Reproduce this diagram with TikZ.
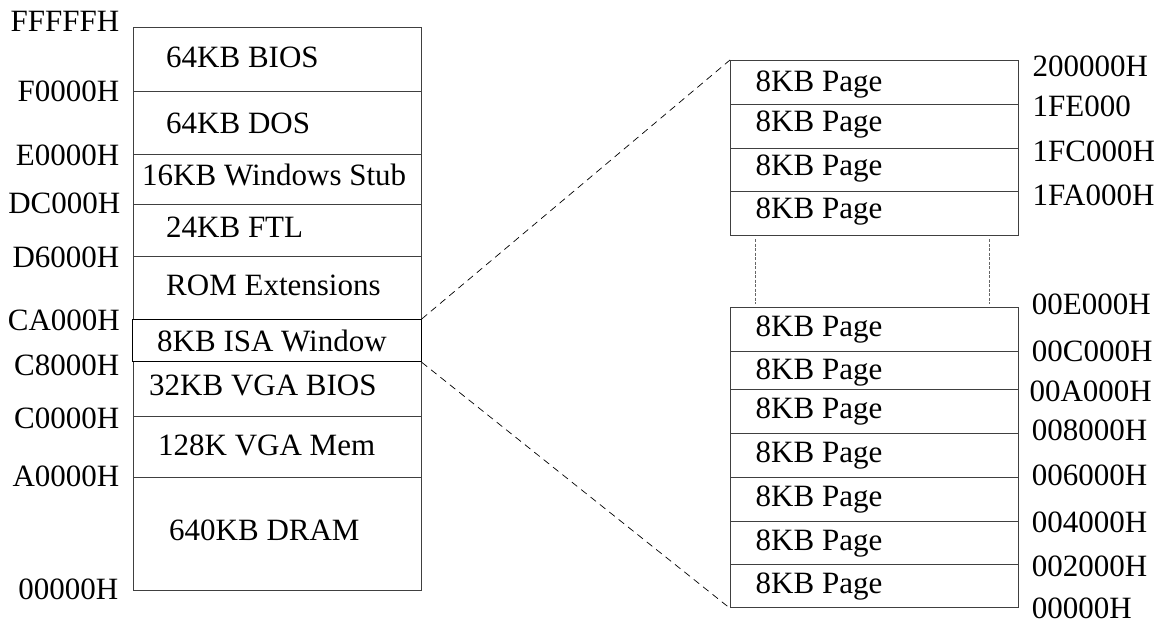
\documentclass[tikz,border=0pt]{standalone}
\usepackage{fontspec}
\setmainfont{Liberation Serif}
\begin{document}
\begin{tikzpicture}[x=1pt,y=-1pt,
  cell/.style={draw=black!75, line width=1pt, inner sep=0pt, anchor=north west},
  lcell/.style={cell, minimum width=288pt},
  rcell/.style={cell, minimum width=287.7pt},
  txt/.style={inner sep=0pt, anchor=base west, font=\fontsize{31}{36}\selectfont},
  addr/.style={inner sep=0pt, anchor=base east, font=\fontsize{31}{36}\selectfont},
  zoomline/.style={draw=black, line width=0.7pt, dash pattern=on 7pt off 5pt},
  gapline/.style={draw=black!60, line width=0.6pt, dash pattern=on 3pt off 1.5pt}]
\useasboundingbox (0,0) rectangle (1164,624);

% left memory map cells
\node[lcell, minimum height=63.7pt] (bios) at (133,27) {};
\node[lcell, minimum height=63.6pt] (dos) at (133,90.7) {};
\node[lcell, minimum height=50pt] (stub) at (133,154.3) {};
\node[lcell, minimum height=51.7pt] (ftl) at (133,204.3) {};
\node[lcell, minimum height=63pt] (rom) at (133,256) {};
\node[lcell, minimum height=54.7pt] (vgab) at (133,361.3) {};
\node[lcell, minimum height=61pt] (vgam) at (133,416) {};
\node[lcell, minimum height=113.3pt] (dram) at (133,477) {};
\node[cell, draw=black, minimum width=289pt, minimum height=42.3pt] (isa) at (131.7,319) {};

% left cell texts
\node[txt] (tbios) at (166,67.7) {64KB BIOS};
\node[txt] (tdos) at (166,133.3) {64KB DOS};
\node[txt] (tstub) at (142,185) {16KB Windows Stub};
\node[txt] (tftl) at (166,237.3) {24KB FTL};
\node[txt] (trom) at (166,295) {ROM Extensions};
\node[txt] (tisa) at (157,351.7) {8KB ISA Window};
\node[txt] (tvgab) at (149,395.7) {32KB VGA BIOS};
\node[txt] (tvgam) at (158,455.7) {128K VGA Mem};
\node[txt] (tdram) at (169,540) {640KB DRAM};

% left addresses
\node[addr] (a1) at (119.5,31.7) {FFFFFH};
\node[addr] (a2) at (119.5,101) {F0000H};
\node[addr] (a3) at (119.5,165.7) {E0000H};
\node[addr] (a4) at (120.5,213) {DC000H};
\node[addr] (a5) at (119.5,267.7) {D6000H};
\node[addr] (a6) at (120,330.7) {CA000H};
\node[addr] (a7) at (119.5,375) {C8000H};
\node[addr] (a8) at (119.5,428.3) {C0000H};
\node[addr] (a9) at (119.5,486.7) {A0000H};
\node[addr] (a10) at (118.5,599.3) {00000H};

% right upper pages
\node[rcell, minimum height=44.3pt] (u1) at (730,60) {};
\node[rcell, minimum height=43.4pt] (u2) at (730,104.3) {};
\node[rcell, minimum height=43.3pt] (u3) at (730,147.7) {};
\node[rcell, minimum height=44pt] (u4) at (730,191) {};
% right lower pages
\node[rcell, minimum height=43.7pt] (l1) at (730,307.3) {};
\node[rcell, minimum height=38.3pt] (l2) at (730,351) {};
\node[rcell, minimum height=44pt] (l3) at (730,389.3) {};
\node[rcell, minimum height=44pt] (l4) at (730,433.3) {};
\node[rcell, minimum height=43.4pt] (l5) at (730,477.3) {};
\node[rcell, minimum height=43.6pt] (l6) at (730,520.7) {};
\node[rcell, minimum height=43pt] (l7) at (730,564.3) {};

% page texts
\node[txt] (pu1) at (755.5,91.7) {8KB Page};
\node[txt] (pu2) at (755.5,131.7) {8KB Page};
\node[txt] (pu3) at (755.5,175) {8KB Page};
\node[txt] (pu4) at (755.5,218.3) {8KB Page};
\node[txt] (pl1) at (755.5,336) {8KB Page};
\node[txt] (pl2) at (755.5,379) {8KB Page};
\node[txt] (pl3) at (755.5,418.3) {8KB Page};
\node[txt] (pl4) at (755.5,462.7) {8KB Page};
\node[txt] (pl5) at (755.5,506) {8KB Page};
\node[txt] (pl6) at (755.5,550) {8KB Page};
\node[txt] (pl7) at (755.5,593.3) {8KB Page};

% right addresses
\node[txt] (r1) at (1032.5,76) {200000H};
\node[txt] (r2) at (1032.5,116.7) {1FE000};
\node[txt] (r3) at (1032.5,161.7) {1FC000H};
\node[txt] (r4) at (1032.5,205) {1FA000H};
\node[txt] (r5) at (1031.7,314.3) {00E000H};
\node[txt] (r6) at (1031.7,361.7) {00C000H};
\node[txt] (r7) at (1029.3,401) {00A000H};
\node[txt] (r8) at (1031.7,440) {008000H};
\node[txt] (r9) at (1031.7,485) {006000H};
\node[txt] (r10) at (1031.7,532.7) {004000H};
\node[txt] (r11) at (1031.7,576.7) {002000H};
\node[txt] (r12) at (1031.7,618.3) {00000H};

% connectors
\draw[zoomline] (isa.north east) -- (u1.north west);
\draw[zoomline] (isa.south east) -- (l7.south west);
\draw[gapline] ([xshift=25pt,yshift=-3pt]u4.south west) -- ([xshift=25pt,yshift=3pt]l1.north west);
\draw[gapline] ([xshift=-29pt,yshift=-3pt]u4.south east) -- ([xshift=-29pt,yshift=3pt]l1.north east);
\end{tikzpicture}
\end{document}
